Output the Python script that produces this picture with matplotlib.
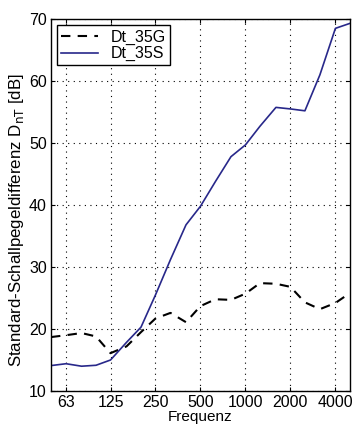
import matplotlib
matplotlib.use("Agg")
import matplotlib.pyplot as plt
import numpy as np

# third-octave band centres
freq = [50, 63, 80, 100, 125, 160, 200, 250, 315, 400, 500, 630, 800,
        1000, 1250, 1600, 2000, 2500, 3150, 4000, 5000]

dt_35g = [18.7, 19.0, 19.35, 18.8, 16.1, 17.2, 19.5, 21.7, 22.6, 21.1, 23.7,
          24.8, 24.7, 25.7, 27.4, 27.3, 26.8, 24.3, 23.2, 24.2, 25.8]
dt_35s = [14.1, 14.4, 14.0, 14.15, 15.0, 17.85, 20.3, 25.5, 31.2, 36.8, 39.8,
          43.8, 47.8, 49.7, 52.7, 55.75, 55.5, 55.2, 61.0, 68.5, 69.3]

tickFreq = [63, 125, 250, 500, 1000, 2000, 4000]
tickLabels = ["63", "125", "250", "500", "1000", "2000", "4000"]

plt.rcParams['font.family'] = ['Liberation Sans', 'DejaVu Sans']

fig = plt.figure(figsize=(3.52, 4.30), dpi=100)
ax = fig.add_axes([0.145, 0.0907, 0.849, 0.865])

ax.plot(freq, dt_35g, "--", color="black", lw=1.5, dashes=(4.5, 3.5), label="Dt_35G")
ax.plot(freq, dt_35s, "-", color="#28288a", lw=1.2, label="Dt_35S")

ax.set_xscale("log")
ax.set_xlim(50, 5000)
ax.set_ylim(10, 70)
ax.set_xticks(tickFreq)
ax.set_xticklabels(tickLabels)
ax.minorticks_off()
ax.set_yticks([10, 20, 30, 40, 50, 60, 70])
ax.tick_params(direction="in", length=3, labelsize=11.5, width=0.8, top=True, right=True, pad=3)
ax.grid(True, linestyle=(0, (1, 4)), color="black", lw=0.8)
for s in ax.spines.values():
    s.set_linewidth(1.0)

ax.set_xlabel("Frequenz", fontsize=11, labelpad=0)
ax.set_ylabel("Standard-Schallpegeldifferenz D$_{\\rm nT}$ [dB]", fontsize=12.2)
ax.yaxis.set_label_coords(-0.085, 0.46)

leg = ax.legend(loc="upper left", fontsize=11.5, fancybox=False, framealpha=1,
                edgecolor="black", borderaxespad=0.4, handlelength=2.3,
                borderpad=0.25, labelspacing=0.1)
leg.get_frame().set_linewidth(1.0)

fig.savefig("out.png", dpi=100)
